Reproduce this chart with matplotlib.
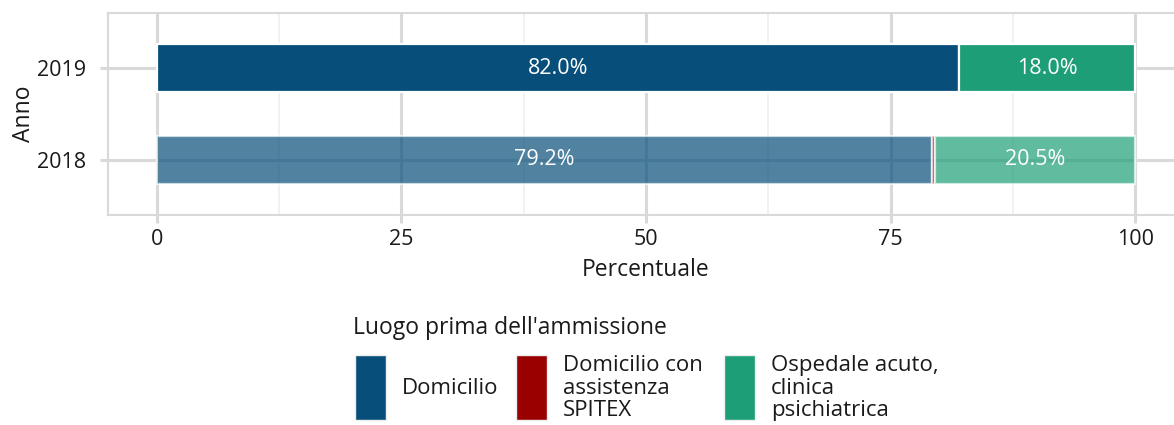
import numpy as np
import matplotlib.pyplot as plt
from matplotlib.patches import Rectangle

plt.rcParams['font.family'] = ['Open Sans', 'DejaVu Sans']

years = ["2018", "2019"]
categories = ["Domicilio", "Domicilio con\nassistenza\nSPITEX", "Ospedale acuto,\nclinica\npsichiatrica"]
domicilio = [79.2, 82.0]
spitex = [0.3, 0.0]
ospedale = [20.5, 18.0]
colors = ["#074f7a", "#990000", "#1d9e77"]
alphas = [0.7, 1.0]

W, H = 1174, 425
fig = plt.figure(figsize=(W / 100, H / 100), dpi=100)
ax = fig.add_axes([108 / W, (H - 215) / H, (1184 - 108) / W, (215 - 13) / H])

series = [domicilio, spitex, ospedale]
y = np.arange(1, len(years) + 1)
for i, yr in enumerate(years):
    left = 0
    for vals, col in zip(series, colors):
        v = vals[i]
        if v > 0:
            ax.barh(y[i], v, left=left, height=0.53, color=col, alpha=alphas[i],
                    edgecolor="white", linewidth=1.6, zorder=3)
            if v > 5:
                ax.text(left + v / 2, y[i], f"{v:.1f}%", color="white",
                        ha="center", va="center", fontsize=15.5, zorder=4)
        left += v

ax.set_xlim(-5, 105)
ax.set_ylim(0.4, 2.6)
ax.set_xticks([0, 25, 50, 75, 100])
ax.set_xticks([12.5, 37.5, 62.5, 87.5], minor=True)
ax.set_yticks(y)
ax.set_yticklabels(years)
ax.set_axisbelow(True)
ax.grid(which="major", color="#d9d9d9", linewidth=2.2)
ax.grid(which="minor", axis="x", color="#eeeeee", linewidth=1.1)
for s in ax.spines.values():
    s.set_color("#d9d9d9")
    s.set_linewidth(1.5)
ax.tick_params(which="major", length=6, width=2.2, color="#d9d9d9",
               labelsize=15.5, labelcolor="#1a1a1a")
ax.tick_params(axis="y", pad=10)
ax.tick_params(axis="x", pad=4)
ax.tick_params(which="minor", length=0)
ax.set_xlabel("Percentuale", fontsize=16.5, color="#1a1a1a", labelpad=6)
ax.set_ylabel("Anno", fontsize=16.5, color="#1a1a1a", labelpad=0.5)

# legend
fig.text(353 / W, (H - 328) / H, "Luogo prima dell'ammissione", fontsize=16.5,
         color="#1a1a1a", ha="left", va="center")
key_x = [355, 516, 724]
for kx, lab, col in zip(key_x, categories, colors):
    fig.add_artist(Rectangle((kx / W, (H - 420) / H), 31 / W, 65 / H,
                             transform=fig.transFigure, facecolor=col,
                             edgecolor="#eeeeee", linewidth=1))
    fig.text((kx + 47) / W, (H - 388) / H, lab, fontsize=16, color="#1a1a1a",
             ha="left", va="center", linespacing=1.12)

fig.savefig("out.png", dpi=100)
